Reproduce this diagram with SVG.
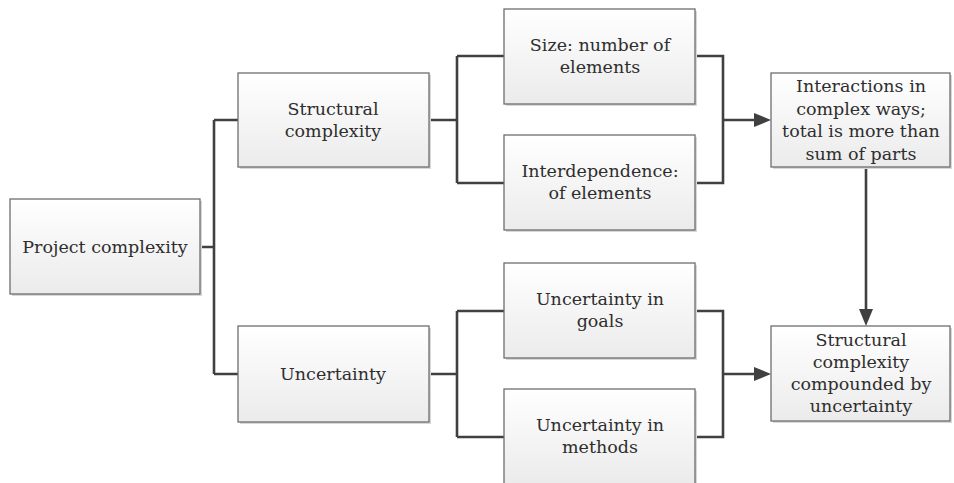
<svg xmlns="http://www.w3.org/2000/svg" width="954" height="483" viewBox="0 0 954 483">
<defs>
<linearGradient id="g" x1="0" y1="0" x2="0" y2="1">
<stop offset="0" stop-color="#ffffff"/>
<stop offset="1" stop-color="#ebebeb"/>
</linearGradient>
</defs>
<style>
.box{fill:url(#g);stroke:#6e6e6e;stroke-width:1.3}
.sh{fill:#d8d8d8}
.t{font-family:"DejaVu Serif","Liberation Serif",serif;font-size:17.5px;fill:#2e2e2e;text-anchor:middle}
.c{fill:none;stroke:#404040;stroke-width:2.6}
.ah{fill:#404040}
</style>
<rect width="954" height="483" fill="#ffffff"/>
<g id="connectors">
<path class="c" d="M200,247 H214 M214,120 V374 M214,120 H238 M214,374 H238"/>
<path class="c" d="M429,120 H457 M457,56 V183 M457,56 H504 M457,183 H504"/>
<path class="c" d="M429,374 H457 M457,311 V437 M457,311 H504 M457,437 H504"/>
<path class="c" d="M695,56 H723 V183 H695 M723,120 H756"/>
<path class="c" d="M695,311 H723 V437 H695 M723,374 H756"/>
<path class="c" d="M866,167 V312"/>
<path class="ah" d="M754,113 L771,120 L754,127 z"/>
<path class="ah" d="M754,367 L771,374 L754,381 z"/>
<path class="ah" d="M859,309 L866,326 L873,309 z"/>
</g>
<g id="project">
<rect class="sh" x="12" y="201" width="190" height="95"/>
<rect class="box" x="10" y="199" width="190" height="95"/>
<text class="t" x="105" y="253">Project complexity</text>
</g>
<g id="structural">
<rect class="sh" x="240" y="75" width="191" height="94"/>
<rect class="box" x="238" y="73" width="191" height="94"/>
<text class="t" x="333" y="115">Structural</text>
<text class="t" x="333" y="137">complexity</text>
</g>
<g id="uncertainty">
<rect class="sh" x="240" y="328" width="191" height="96"/>
<rect class="box" x="238" y="326" width="191" height="96"/>
<text class="t" x="333" y="380">Uncertainty</text>
</g>
<g id="size">
<rect class="sh" x="506" y="11" width="191" height="95"/>
<rect class="box" x="504" y="9" width="191" height="95"/>
<text class="t" x="600" y="51">Size: number of</text>
<text class="t" x="600" y="73">elements</text>
</g>
<g id="interdependence">
<rect class="sh" x="506" y="137" width="191" height="95"/>
<rect class="box" x="504" y="135" width="191" height="95"/>
<text class="t" x="600" y="177">Interdependence:</text>
<text class="t" x="600" y="199">of elements</text>
</g>
<g id="goals">
<rect class="sh" x="506" y="265" width="191" height="95"/>
<rect class="box" x="504" y="263" width="191" height="95"/>
<text class="t" x="600" y="305">Uncertainty in</text>
<text class="t" x="600" y="327">goals</text>
</g>
<g id="methods">
<rect class="sh" x="506" y="391" width="191" height="95"/>
<rect class="box" x="504" y="389" width="191" height="95"/>
<text class="t" x="600" y="431">Uncertainty in</text>
<text class="t" x="600" y="453">methods</text>
</g>
<g id="interactions">
<rect class="sh" x="773" y="75" width="179" height="94"/>
<rect class="box" x="771" y="73" width="179" height="94"/>
<text class="t" x="861" y="92">Interactions in</text>
<text class="t" x="861" y="115">complex ways;</text>
<text class="t" x="861" y="137">total is more than</text>
<text class="t" x="861" y="160">sum of parts</text>
</g>
<g id="compounded">
<rect class="sh" x="773" y="328" width="179" height="95"/>
<rect class="box" x="771" y="326" width="179" height="95"/>
<text class="t" x="861" y="346">Structural</text>
<text class="t" x="861" y="368">complexity</text>
<text class="t" x="861" y="390">compounded by</text>
<text class="t" x="861" y="412">uncertainty</text>
</g>
</svg>
